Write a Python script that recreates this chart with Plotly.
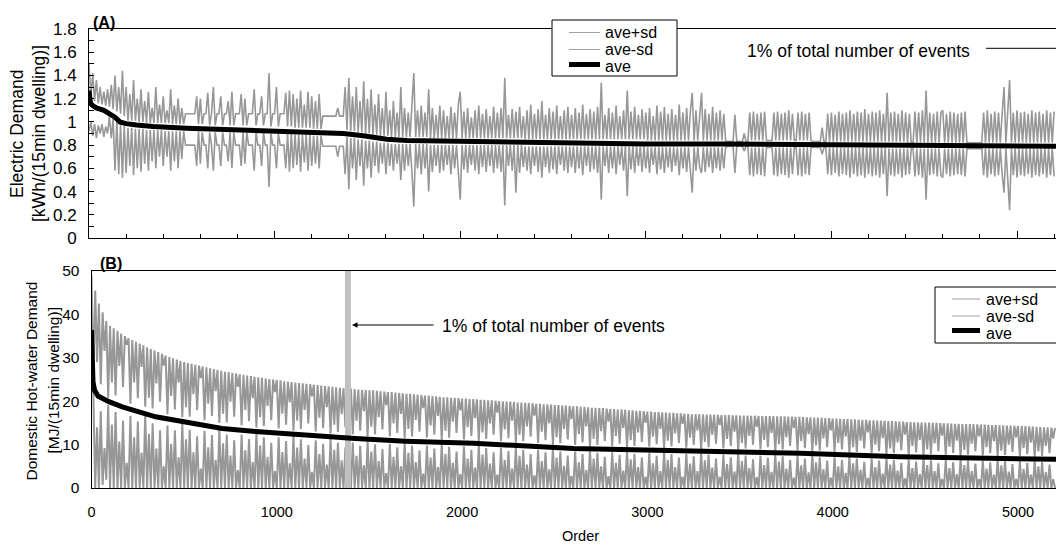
import plotly.graph_objects as go

# ---------------- data ----------------
# x = order (rank) of events; the sd series are read every 10 events
order_sd = list(range(0, 5201, 10))

# (A) Electric demand [kWh/(15min dwelling)]
elec_ave_order = [0, 3, 8, 20, 40, 80, 112, 140, 166, 200, 256, 346, 526, 885, 1244, 1370,
                  1478, 1540, 1604, 1712, 2063, 2693, 3000, 3447, 3850, 4137, 4536, 5210]
elec_ave = [1.27, 1.21, 1.16, 1.14, 1.12, 1.10, 1.07, 1.04, 1.00, 0.985, 0.973, 0.96, 0.945, 0.93,
            0.907, 0.90, 0.88, 0.865, 0.85, 0.84, 0.83, 0.815, 0.81, 0.81, 0.805, 0.80, 0.79, 0.79]
elec_plus_sd = [
    1.50, 1.22, 1.42, 1.18, 1.36, 1.16, 1.30, 1.15, 1.26, 1.14,
    1.28, 1.13, 1.32, 1.11, 1.40, 1.09, 1.30, 1.07, 1.44, 1.05,
    1.30, 1.01, 1.24, 1.01, 1.36, 1.01, 1.20, 1.00, 1.28, 1.00,
    1.18, 0.99, 1.26, 0.99, 1.12, 0.99, 1.30, 0.99, 1.15, 0.99,
    1.22, 0.99, 1.10, 0.99, 1.28, 0.98, 1.14, 0.98, 1.20, 0.98,
    1.12, 0.98, 1.07, 1.07, 1.07, 1.07, 1.07, 1.07, 1.22, 0.98,
    1.20, 0.98, 1.07, 1.07, 1.25, 0.97, 1.07, 1.30, 0.97, 1.07,
    1.07, 1.22, 0.97, 1.07, 1.07, 1.18, 0.97, 1.26, 0.97, 1.07,
    1.07, 1.07, 1.24, 0.97, 1.20, 0.97, 1.07, 1.07, 1.07, 1.28,
    0.97, 1.07, 1.07, 1.22, 0.97, 1.07, 1.07, 1.42, 0.96, 1.07,
    1.07, 1.30, 0.96, 1.07, 1.07, 1.07, 1.25, 0.96, 1.27, 0.96,
    1.24, 0.95, 1.20, 0.95, 1.27, 0.95, 1.15, 0.95, 1.26, 0.95,
    1.22, 0.94, 1.18, 0.94, 1.24, 0.94, 1.05, 1.05, 1.05, 1.05,
    1.05, 1.05, 1.05, 1.05, 1.12, 1.05, 1.05, 1.05, 1.30, 0.93,
    1.38, 0.92, 1.22, 0.92, 1.30, 0.91, 1.18, 0.91, 1.35, 0.90,
    1.20, 0.90, 1.28, 0.89, 1.15, 0.89, 1.24, 0.88, 1.12, 0.88,
    1.26, 0.88, 1.10, 0.87, 1.18, 0.87, 1.08, 0.87, 1.30, 0.87,
    1.12, 0.87, 1.08, 0.87, 1.15, 1.42, 0.87, 1.10, 0.87, 1.14,
    0.87, 1.08, 0.87, 1.28, 0.86, 1.12, 0.86, 1.06, 0.86, 1.14,
    0.86, 1.10, 0.86, 1.05, 0.86, 1.13, 0.86, 1.08, 0.86, 1.15,
    1.26, 0.86, 1.09, 0.86, 1.12, 0.86, 1.04, 0.86, 1.10, 0.86,
    1.14, 0.86, 1.07, 0.86, 1.11, 0.86, 1.05, 0.86, 1.13, 0.86,
    1.08, 0.86, 1.12, 0.86, 1.38, 0.86, 1.06, 0.86, 1.11, 0.86,
    1.09, 0.86, 1.13, 0.86, 1.05, 0.85, 1.10, 0.85, 1.15, 0.85,
    1.07, 0.85, 1.11, 0.85, 1.18, 0.85, 1.06, 0.85, 1.12, 0.85,
    1.09, 0.85, 1.14, 0.85, 1.05, 0.85, 1.10, 0.85, 1.13, 0.85,
    1.06, 0.85, 1.12, 0.85, 1.08, 0.85, 1.15, 0.85, 1.07, 0.85,
    1.11, 0.85, 1.09, 0.85, 1.13, 0.85, 1.34, 0.85, 1.06, 0.85,
    1.12, 0.85, 1.08, 0.85, 1.14, 0.85, 1.05, 0.85, 1.10, 0.85,
    1.27, 0.85, 1.09, 0.85, 1.13, 0.85, 1.06, 0.85, 1.11, 0.85,
    1.08, 0.84, 1.12, 0.84, 1.05, 0.84, 1.14, 0.84, 1.09, 0.84,
    1.13, 0.84, 1.07, 0.84, 1.11, 0.84, 1.06, 0.84, 1.15, 0.84,
    1.08, 0.84, 1.12, 0.84, 1.09, 1.25, 0.84, 1.10, 0.84, 1.06,
    1.25, 0.84, 1.11, 0.84, 1.07, 0.84, 1.13, 0.84, 1.08, 0.84,
    1.10, 0.84, 1.07, 0.84, 0.83, 0.83, 0.83, 0.83, 1.06, 0.83,
    0.83, 0.83, 0.83, 0.90, 0.83, 0.83, 1.08, 0.84, 1.09, 0.84,
    1.07, 0.84, 1.08, 0.84, 1.09, 0.84, 0.84, 0.84, 0.84, 1.08,
    0.84, 1.09, 0.84, 1.07, 0.84, 1.08, 0.84, 1.10, 0.84, 1.07,
    0.84, 0.84, 1.08, 0.84, 1.09, 0.84, 1.07, 0.84, 1.08, 0.84,
    0.83, 0.83, 0.83, 0.83, 0.83, 0.95, 0.83, 0.83, 1.07, 0.83,
    1.08, 0.83, 1.06, 0.83, 1.09, 0.83, 1.07, 0.83, 1.08, 0.83,
    1.10, 0.83, 1.07, 0.83, 1.09, 0.83, 1.08, 0.83, 1.11, 0.83,
    1.07, 0.83, 1.09, 0.83, 1.08, 0.83, 1.10, 0.83, 1.07, 0.83,
    1.25, 0.83, 1.08, 0.83, 1.09, 0.83, 1.07, 0.83, 1.10, 0.83,
    1.08, 0.82, 1.07, 0.82, 0.82, 1.09, 0.82, 1.08, 0.82, 1.10,
    0.82, 1.27, 0.82, 1.08, 0.82, 1.07, 0.82, 1.09, 0.82, 1.08,
    1.10, 0.82, 1.07, 0.82, 1.09, 0.82, 1.08, 0.82, 1.07, 0.82,
    1.08, 0.82, 1.09, 0.82, 0.82, 0.82, 0.82, 0.82, 0.82, 0.82,
    0.82, 0.82, 1.08, 0.82, 1.10, 0.82, 1.07, 0.82, 1.09, 0.82,
    1.08, 0.82, 1.07, 1.30, 0.82, 1.09, 1.36, 0.82, 1.08, 0.82,
    1.10, 0.82, 1.08, 0.82, 1.09, 0.82, 1.07, 0.82, 1.10, 0.82,
    1.08, 0.82, 1.09, 0.82, 1.07, 0.82, 1.10, 0.82, 1.08, 0.82,
    1.09]
elec_minus_sd = [
    0.92, 1.00, 0.88, 0.98, 0.86, 0.97, 0.90, 0.98, 0.87, 0.96,
    0.90, 1.05, 0.86, 1.03, 0.58, 1.01, 0.55, 0.98, 0.52, 0.97,
    0.56, 0.95, 0.62, 0.95, 0.54, 0.94, 0.60, 0.94, 0.57, 0.94,
    0.64, 0.93, 0.58, 0.93, 0.66, 0.93, 0.60, 0.93, 0.70, 0.93,
    0.62, 0.92, 0.70, 0.92, 0.58, 0.92, 0.66, 0.92, 0.60, 0.92,
    0.68, 0.92, 0.80, 0.80, 0.80, 0.80, 0.80, 0.80, 0.62, 0.92,
    0.64, 0.91, 0.80, 0.80, 0.60, 0.91, 0.80, 0.58, 0.91, 0.80,
    0.80, 0.62, 0.91, 0.80, 0.80, 0.66, 0.91, 0.60, 0.91, 0.80,
    0.80, 0.80, 0.62, 0.91, 0.64, 0.91, 0.80, 0.80, 0.80, 0.58,
    0.91, 0.80, 0.80, 0.62, 0.91, 0.80, 0.80, 0.44, 0.90, 0.80,
    0.80, 0.60, 0.90, 0.80, 0.80, 0.80, 0.60, 0.90, 0.57, 0.90,
    0.60, 0.89, 0.63, 0.89, 0.57, 0.89, 0.65, 0.89, 0.58, 0.89,
    0.62, 0.88, 0.64, 0.88, 0.60, 0.88, 0.79, 0.79, 0.79, 0.79,
    0.79, 0.79, 0.79, 0.79, 0.70, 0.79, 0.79, 0.79, 0.55, 0.87,
    0.42, 0.86, 0.60, 0.86, 0.50, 0.85, 0.62, 0.85, 0.45, 0.84,
    0.60, 0.84, 0.52, 0.83, 0.62, 0.83, 0.56, 0.82, 0.64, 0.82,
    0.55, 0.82, 0.62, 0.81, 0.58, 0.81, 0.64, 0.81, 0.50, 0.81,
    0.58, 0.81, 0.62, 0.81, 0.56, 0.27, 0.81, 0.60, 0.81, 0.55,
    0.81, 0.60, 0.81, 0.40, 0.80, 0.57, 0.80, 0.62, 0.80, 0.56,
    0.80, 0.58, 0.80, 0.63, 0.80, 0.55, 0.80, 0.60, 0.80, 0.57,
    0.33, 0.80, 0.59, 0.80, 0.56, 0.80, 0.63, 0.80, 0.58, 0.80,
    0.55, 0.80, 0.61, 0.80, 0.57, 0.80, 0.62, 0.80, 0.56, 0.80,
    0.60, 0.80, 0.57, 0.80, 0.28, 0.80, 0.62, 0.80, 0.58, 0.80,
    0.39, 0.80, 0.56, 0.80, 0.61, 0.79, 0.58, 0.79, 0.55, 0.79,
    0.62, 0.79, 0.57, 0.79, 0.52, 0.79, 0.61, 0.79, 0.56, 0.79,
    0.59, 0.79, 0.55, 0.79, 0.63, 0.79, 0.58, 0.79, 0.56, 0.79,
    0.61, 0.79, 0.56, 0.79, 0.60, 0.79, 0.54, 0.79, 0.62, 0.79,
    0.57, 0.79, 0.59, 0.79, 0.56, 0.79, 0.33, 0.79, 0.62, 0.79,
    0.56, 0.79, 0.60, 0.79, 0.55, 0.79, 0.63, 0.79, 0.58, 0.79,
    0.36, 0.79, 0.59, 0.79, 0.56, 0.79, 0.62, 0.79, 0.57, 0.79,
    0.60, 0.78, 0.56, 0.78, 0.63, 0.78, 0.55, 0.78, 0.59, 0.78,
    0.56, 0.78, 0.61, 0.78, 0.57, 0.78, 0.62, 0.78, 0.54, 0.78,
    0.60, 0.78, 0.57, 0.78, 0.59, 0.39, 0.78, 0.58, 0.78, 0.61,
    0.56, 0.78, 0.57, 0.78, 0.61, 0.78, 0.56, 0.78, 0.60, 0.78,
    0.58, 0.78, 0.60, 0.78, 0.79, 0.79, 0.79, 0.79, 0.56, 0.79,
    0.79, 0.79, 0.79, 0.75, 0.79, 0.79, 0.54, 0.78, 0.53, 0.78,
    0.55, 0.78, 0.54, 0.78, 0.53, 0.78, 0.78, 0.78, 0.78, 0.54,
    0.78, 0.53, 0.78, 0.55, 0.78, 0.54, 0.78, 0.52, 0.78, 0.55,
    0.78, 0.78, 0.54, 0.78, 0.53, 0.78, 0.55, 0.78, 0.54, 0.78,
    0.78, 0.78, 0.78, 0.78, 0.78, 0.72, 0.78, 0.78, 0.55, 0.78,
    0.54, 0.78, 0.56, 0.78, 0.53, 0.78, 0.55, 0.78, 0.54, 0.78,
    0.52, 0.78, 0.55, 0.78, 0.53, 0.78, 0.54, 0.78, 0.52, 0.78,
    0.55, 0.78, 0.53, 0.78, 0.54, 0.78, 0.52, 0.78, 0.55, 0.78,
    0.36, 0.77, 0.54, 0.77, 0.53, 0.77, 0.55, 0.77, 0.52, 0.77,
    0.54, 0.77, 0.55, 0.77, 0.77, 0.53, 0.77, 0.54, 0.77, 0.52,
    0.77, 0.33, 0.77, 0.54, 0.77, 0.55, 0.77, 0.53, 0.77, 0.54,
    0.52, 0.77, 0.55, 0.77, 0.53, 0.77, 0.54, 0.77, 0.55, 0.77,
    0.54, 0.77, 0.53, 0.77, 0.77, 0.77, 0.77, 0.77, 0.77, 0.77,
    0.77, 0.77, 0.54, 0.77, 0.52, 0.77, 0.55, 0.77, 0.53, 0.77,
    0.54, 0.77, 0.55, 0.39, 0.77, 0.53, 0.24, 0.77, 0.54, 0.77,
    0.52, 0.77, 0.54, 0.77, 0.53, 0.77, 0.55, 0.77, 0.52, 0.77,
    0.54, 0.77, 0.53, 0.77, 0.55, 0.77, 0.52, 0.77, 0.54, 0.77,
    0.53]

# (B) Domestic hot-water demand [MJ/(15min dwelling)]
hw_ave_order = [0, 3, 8, 17, 35, 94, 166, 346, 526, 705, 885, 1065, 1243, 1424, 1694,
                2062, 2601, 3140, 3825, 4364, 4903, 5210]
hw_ave = [36.4, 27.0, 24.5, 22.5, 21.2, 19.9, 18.7, 16.4, 14.9, 13.7, 13.0, 12.4, 11.8, 11.4,
          10.8, 10.3, 9.1, 8.7, 8.0, 7.2, 6.9, 6.6]
hw_plus_sd = [
    49, 25.4, 45.5, 29.0, 42.5, 23.9, 40.5, 31.6, 38.5, 20.8,
    37.4, 24.3, 36.8, 21.3, 36.2, 28.1, 35.6, 23.3, 35.0, 33.0,
    34.5, 19.4, 34.1, 24.3, 33.7, 20.7, 33.3, 27.9, 32.9, 18.7,
    32.4, 20.8, 32.0, 18.3, 31.7, 24.1, 31.3, 19.9, 30.9, 28.2,
    30.5, 17.0, 30.2, 21.2, 29.9, 18.1, 29.6, 24.3, 29.3, 16.3,
    29.0, 18.6, 28.8, 16.4, 28.6, 21.6, 28.4, 17.9, 28.2, 25.3,
    28.0, 15.6, 27.8, 19.4, 27.6, 16.6, 27.4, 22.3, 27.2, 15.0,
    27.0, 17.1, 26.8, 15.1, 26.7, 19.9, 26.5, 16.4, 26.4, 23.3,
    26.2, 14.4, 26.1, 18.0, 25.9, 15.4, 25.8, 20.7, 25.6, 13.9,
    25.5, 16.3, 25.4, 14.3, 25.2, 18.9, 25.1, 15.6, 25.0, 22.1,
    24.9, 13.7, 24.8, 17.1, 24.6, 14.6, 24.5, 19.7, 24.4, 13.2,
    24.3, 15.5, 24.2, 13.6, 24.1, 18.0, 24.0, 14.9, 23.9, 21.1,
    23.8, 13.0, 23.7, 16.2, 23.6, 13.8, 23.5, 18.6, 23.4, 12.5,
    23.3, 14.6, 23.2, 12.9, 23.1, 17.0, 23.0, 14.0, 23.0, 19.9,
    22.9, 12.4, 22.8, 15.5, 22.7, 13.2, 22.6, 17.7, 22.6, 11.9,
    22.5, 14.1, 22.5, 12.4, 22.4, 16.3, 22.3, 13.5, 22.2, 19.1,
    22.1, 11.9, 22.1, 14.9, 22.0, 12.7, 21.9, 17.1, 21.8, 11.5,
    21.7, 13.6, 21.7, 11.9, 21.6, 15.7, 21.5, 13.0, 21.4, 18.4,
    21.3, 11.6, 21.3, 14.4, 21.2, 12.3, 21.1, 16.6, 21.0, 11.1,
    20.9, 13.2, 20.9, 11.6, 20.8, 15.3, 20.8, 12.7, 20.7, 17.9,
    20.6, 11.2, 20.6, 14.0, 20.5, 12.0, 20.5, 16.1, 20.4, 10.8,
    20.3, 12.8, 20.3, 11.3, 20.2, 14.9, 20.2, 12.3, 20.1, 17.4,
    20.0, 10.8, 20.0, 13.5, 19.9, 11.5, 19.9, 15.5, 19.8, 10.4,
    19.7, 12.3, 19.7, 10.8, 19.6, 14.2, 19.6, 11.8, 19.5, 16.7,
    19.4, 10.4, 19.4, 13.0, 19.3, 11.0, 19.3, 14.9, 19.2, 10.0,
    19.1, 11.7, 19.1, 10.3, 19.0, 13.6, 19.0, 11.2, 18.9, 15.9,
    18.8, 9.9, 18.8, 12.4, 18.7, 10.5, 18.7, 14.2, 18.6, 9.5,
    18.5, 11.3, 18.5, 9.9, 18.4, 13.1, 18.4, 10.8, 18.3, 15.3,
    18.2, 9.6, 18.2, 12.0, 18.1, 10.2, 18.1, 13.8, 18.0, 9.3,
    17.9, 11.0, 17.9, 9.7, 17.8, 12.8, 17.8, 10.6, 17.7, 15.0,
    17.6, 9.5, 17.6, 11.8, 17.5, 10.1, 17.5, 13.6, 17.4, 9.1,
    17.4, 10.9, 17.3, 9.6, 17.3, 12.6, 17.2, 10.4, 17.2, 14.8,
    17.1, 9.3, 17.1, 11.6, 17.0, 9.9, 17.0, 13.3, 17.0, 8.9,
    16.95, 10.6, 16.9, 9.4, 16.9, 12.3, 16.9, 10.2, 16.85, 14.5,
    16.8, 9.1, 16.8, 11.3, 16.8, 9.7, 16.75, 13.0, 16.75, 8.7,
    16.7, 10.4, 16.7, 9.1, 16.7, 12.0, 16.65, 10.0, 16.65, 14.1,
    16.6, 8.9, 16.6, 11.1, 16.6, 9.4, 16.55, 12.7, 16.55, 8.5,
    16.5, 10.1, 16.5, 8.9, 16.5, 11.7, 16.45, 9.7, 16.45, 13.8,
    16.4, 8.6, 16.4, 10.8, 16.35, 9.2, 16.3, 12.4, 16.3, 8.3,
    16.2, 9.8, 16.2, 8.6, 16.15, 11.4, 16.1, 9.4, 16.1, 13.3,
    16.0, 8.3, 16.0, 10.4, 15.95, 8.9, 15.9, 11.9, 15.9, 8.0,
    15.8, 9.4, 15.8, 8.3, 15.75, 10.9, 15.7, 9.1, 15.7, 12.8,
    15.6, 8.0, 15.6, 10.0, 15.55, 8.5, 15.5, 11.5, 15.5, 7.7,
    15.4, 9.1, 15.4, 8.0, 15.35, 10.5, 15.3, 8.7, 15.3, 12.3,
    15.2, 7.7, 15.2, 9.7, 15.15, 8.2, 15.1, 11.1, 15.1, 7.4,
    15.05, 8.9, 15.05, 7.8, 15.0, 10.3, 15.0, 8.5, 14.95, 12.1,
    14.9, 7.6, 14.9, 9.5, 14.85, 8.1, 14.8, 10.9, 14.8, 7.3,
    14.75, 8.8, 14.75, 7.7, 14.7, 10.2, 14.7, 8.4, 14.65, 11.9,
    14.6, 7.5, 14.6, 9.4, 14.55, 8.0, 14.5, 10.8, 14.5, 7.2,
    14.45, 8.6, 14.45, 7.6, 14.4, 10.0, 14.4, 8.3, 14.35, 11.7,
    14.3, 7.3, 14.3, 9.2, 14.25, 7.8, 14.2, 10.5, 14.15, 7.1,
    14.1, 8.4, 14.05, 7.4, 14.0, 9.7, 13.95, 8.0, 13.9, 11.4,
    13.8]
hw_minus_sd = [
    23.8, 21.6, 0, 14.0, 0, 17.7, 0.7, 9.2, 1.9, 19.2,
    0, 14.6, 0, 17.5, 0, 10.7, 0, 15.5, 0, 5.8,
    0, 16.6, 0, 11.7, 0, 15.3, 0, 8.1, 0, 17.3,
    0, 12.5, 0, 14.9, 0, 9.1, 0, 13.3, 0, 5.0,
    0, 14.4, 0, 10.2, 0, 13.3, 0, 7.1, 0, 15.1,
    0, 11.2, 0, 13.4, 0, 8.2, 0, 11.9, 0, 4.5,
    0, 13.2, 0, 9.4, 0, 12.2, 0, 6.5, 0, 13.8,
    0, 10.3, 0, 12.3, 0, 7.5, 0, 11.0, 0, 4.1,
    0, 12.3, 0, 8.7, 0, 11.3, 0, 6.0, 0, 12.8,
    0, 9.8, 0, 11.7, 0, 7.2, 0, 10.4, 0, 3.9,
    0, 11.7, 0, 8.3, 0, 10.8, 0, 5.7, 0, 12.2,
    0, 9.3, 0, 11.2, 0, 6.8, 0, 9.9, 0, 3.7,
    0, 11.0, 0, 7.8, 0, 10.2, 0, 5.4, 0, 11.5,
    0, 8.8, 0, 10.5, 0, 6.4, 0, 9.4, 0, 3.5,
    0, 10.5, 0, 7.4, 0, 9.7, 0, 5.2, 0, 11.0,
    0, 8.4, 0, 10.1, 0, 6.2, 0, 9.0, 0, 3.4,
    0, 10.2, 0, 7.2, 0, 9.4, 0, 5.0, 0, 10.6,
    0, 8.1, 0, 9.8, 0, 6.0, 0, 8.7, 0, 3.3,
    0, 9.8, 0, 7.0, 0, 9.1, 0, 4.8, 0, 10.3,
    0, 7.9, 0, 9.5, 0, 5.8, 0, 8.4, 0, 3.2,
    0, 9.6, 0, 6.8, 0, 8.8, 0, 4.7, 0, 10.0,
    0, 7.7, 0, 9.2, 0, 5.6, 0, 8.2, 0, 3.1,
    0, 9.2, 0, 6.5, 0, 8.5, 0, 4.5, 0, 9.6,
    0, 7.4, 0, 8.8, 0, 5.4, 0, 7.8, 0, 2.9,
    0, 8.8, 0, 6.2, 0, 8.2, 0, 4.3, 0, 9.2,
    0, 7.0, 0, 8.4, 0, 5.1, 0, 7.5, 0, 2.8,
    0, 8.4, 0, 5.9, 0, 7.8, 0, 4.1, 0, 8.8,
    0, 6.8, 0, 8.1, 0, 5.0, 0, 7.2, 0, 2.7,
    0, 8.2, 0, 5.8, 0, 7.6, 0, 4.0, 0, 8.5,
    0, 6.6, 0, 7.9, 0, 4.8, 0, 7.0, 0, 2.6,
    0, 8.1, 0, 5.7, 0, 7.4, 0, 3.9, 0, 8.4,
    0, 6.5, 0, 7.8, 0, 4.8, 0, 7.0, 0, 2.6,
    0, 7.9, 0, 5.6, 0, 7.3, 0, 3.9, 0, 8.3,
    0, 6.4, 0, 7.7, 0, 4.7, 0, 6.8, 0, 2.6,
    0, 7.7, 0, 5.5, 0, 7.1, 0, 3.8, 0, 8.1,
    0, 6.2, 0, 7.5, 0, 4.6, 0, 6.6, 0, 2.5,
    0, 7.5, 0, 5.3, 0, 7.0, 0, 3.7, 0, 7.9,
    0, 6.1, 0, 7.3, 0, 4.5, 0, 6.5, 0, 2.4,
    0, 7.4, 0, 5.2, 0, 6.8, 0, 3.6, 0, 7.7,
    0, 5.9, 0, 7.1, 0, 4.3, 0, 6.3, 0, 2.4,
    0, 7.1, 0, 5.0, 0, 6.5, 0, 3.5, 0, 7.4,
    0, 5.7, 0, 6.8, 0, 4.2, 0, 6.0, 0, 2.3,
    0, 6.8, 0, 4.8, 0, 6.3, 0, 3.3, 0, 7.1,
    0, 5.4, 0, 6.5, 0, 4.0, 0, 5.8, 0, 2.2,
    0, 6.6, 0, 4.6, 0, 6.1, 0, 3.2, 0, 6.9,
    0, 5.3, 0, 6.4, 0, 3.9, 0, 5.7, 0, 2.1,
    0, 6.5, 0, 4.6, 0, 6.0, 0, 3.2, 0, 6.8,
    0, 5.3, 0, 6.3, 0, 3.9, 0, 5.6, 0, 2.1,
    0, 6.4, 0, 4.5, 0, 5.9, 0, 3.1, 0, 6.7,
    0, 5.2, 0, 6.2, 0, 3.8, 0, 5.5, 0, 2.1,
    0, 6.3, 0, 4.4, 0, 5.8, 0, 3.1, 0, 6.5,
    0, 5.0, 0, 6.0, 0, 3.7, 0, 5.4, 0, 2.0,
    0]

one_percent_order = 1384          # 1% of total number of events
series_names = ["ave+sd", "ave-sd", "ave"]
event_label = "1% of total number of events"

# ---------------- layout geometry ----------------
W, H = 1056, 545
ML, MT, MB = 89, 29, 57
PW = W - ML
PH = H - MT - MB
FONT = "Liberation Sans, Arial, sans-serif"
GRAY = "#979797"


def fx(p):
    return (p - ML) / PW


def fy(p):
    return (H - MB - p) / PH


def sd_trace(vals, axx, axy, name, width):
    return go.Scatter(x=order_sd[:len(vals)], y=vals, mode="lines", name=name,
                      line=dict(color=GRAY, width=width), xaxis=axx, yaxis=axy,
                      showlegend=False)


fig = go.Figure()

# panel A
fig.add_trace(sd_trace(elec_plus_sd, "x", "y", series_names[0], 1.6))
fig.add_trace(sd_trace(elec_minus_sd, "x", "y", series_names[1], 1.6))
fig.add_trace(go.Scatter(x=elec_ave_order, y=elec_ave, mode="lines", name=series_names[2],
                         line=dict(color="black", width=5), xaxis="x", yaxis="y", showlegend=False))

# panel B
fig.add_trace(sd_trace(hw_plus_sd, "x2", "y2", series_names[0], 2.0))
fig.add_trace(sd_trace(hw_minus_sd, "x2", "y2", series_names[1], 2.0))
fig.add_trace(go.Scatter(x=[one_percent_order, one_percent_order], y=[0, 50], mode="lines",
                         name=event_label, line=dict(color="#c0c0c0", width=6),
                         xaxis="x2", yaxis="y2", showlegend=False))
fig.add_trace(go.Scatter(x=hw_ave_order, y=hw_ave, mode="lines", name=series_names[2],
                         line=dict(color="black", width=5), xaxis="x2", yaxis="y2", showlegend=False))

top_dom = [fy(238), 1]
bot_dom = [0, fy(271)]

axis_common = dict(showline=True, linecolor="black", linewidth=1, showgrid=False,
                   zeroline=False, color="black")

fig.update_layout(
    width=W, height=H,
    margin=dict(l=ML, r=0, t=MT, b=MB, pad=0),
    paper_bgcolor="white", plot_bgcolor="white",
    font=dict(family=FONT, color="black"),
    showlegend=False,
    xaxis=dict(domain=[0, 1], anchor="y", range=[0, 5210], mirror=True,
               showticklabels=False, ticks="inside", ticklen=7, tickcolor="black",
               dtick=1000, tick0=0,
               minor=dict(dtick=200, ticks="inside", ticklen=4, tickcolor="black"),
               **axis_common),
    yaxis=dict(domain=top_dom, anchor="x", range=[0, 1.8], dtick=0.2, tick0=0,
               ticks="inside", ticklen=5, tickcolor="black",
               minor=dict(dtick=0.1, ticks="inside", ticklen=5, tickcolor="black"),
               tickfont=dict(size=17), ticklabelstandoff=8, **axis_common),
    xaxis2=dict(domain=[2.5 / PW, 1], anchor="y2", range=[0, 5205], mirror=True,
                dtick=1000, tick0=0, ticks="", tickfont=dict(size=14.5),
                ticklabelstandoff=11, **axis_common),
    yaxis2=dict(domain=bot_dom, anchor="x2", range=[0, 50], dtick=10, tick0=0,
                ticks="", tickfont=dict(size=15.5), ticklabelstandoff=8, **axis_common),
)

ann = []
shapes = []


def text(x, y, s, size, **kw):
    d = dict(x=fx(x), y=fy(y), xref="paper", yref="paper", text=s, showarrow=False,
             font=dict(size=size, family=FONT, color="black"), xanchor="center",
             yanchor="middle")
    d.update(kw)
    ann.append(d)


# panel labels
text(104, 22.5, "<b>(A)</b>", 16)
text(111, 263, "<b>(B)</b>", 16)
# axis titles
text(17, 134, "Electric Demand", 17.5, textangle=-90)
text(39, 134, "[kWh/(15min dwelling)]", 17.5, textangle=-90)
text(30.5, 381, "Domestic Hot-water Demand", 15.5, textangle=-90)
text(52.5, 381, "[MJ/(15min dwelling)]", 15.5, textangle=-90)
text(580, 536, "Order", 14.5)

# 1% annotations
text(745, 51, event_label, 17.5, xanchor="left")
shapes.append(dict(type="line", xref="paper", yref="paper", x0=fx(986), x1=fx(1060),
                   y0=fy(48.3), y1=fy(48.3), line=dict(color="black", width=1)))
text(440, 326, event_label, 17.5, xanchor="left")
ann.append(dict(x=fx(352), y=fy(325), xref="paper", yref="paper", text="", showarrow=True,
                ax=83, ay=0, axref="pixel", ayref="pixel", arrowhead=2, arrowsize=1.1,
                arrowwidth=1, arrowcolor="black"))


def legend(x0, x1, y0, y1, lx0, lx1, line_ys, tx, text_ys, size):
    shapes.append(dict(type="rect", xref="paper", yref="paper", x0=fx(x0), x1=fx(x1),
                       y0=fy(y0), y1=fy(y1), fillcolor="white",
                       line=dict(color="black", width=1)))
    styles = [("#a0a0a0", 1), ("#a0a0a0", 1), ("black", 5)]
    for (c, w), ly in zip(styles, line_ys):
        shapes.append(dict(type="line", xref="paper", yref="paper", x0=fx(lx0), x1=fx(lx1),
                           y0=fy(ly), y1=fy(ly), line=dict(color=c, width=w)))
    for s, ty in zip(series_names, text_ys):
        text(tx, ty, s, size, xanchor="left")


legend(552, 677, 20, 76, 569, 600, [32.5, 49.5, 64.5], 603, [32.5, 49.5, 66.5], 16)
legend(935, 1080, 287, 343, 952, 980, [299, 316, 330.5], 984, [299, 316, 333], 16)

fig.update_layout(annotations=ann, shapes=shapes)

fig.write_html("out.html", config={"displayModeBar": False},
               post_script="document.body.style.margin='0px';")
